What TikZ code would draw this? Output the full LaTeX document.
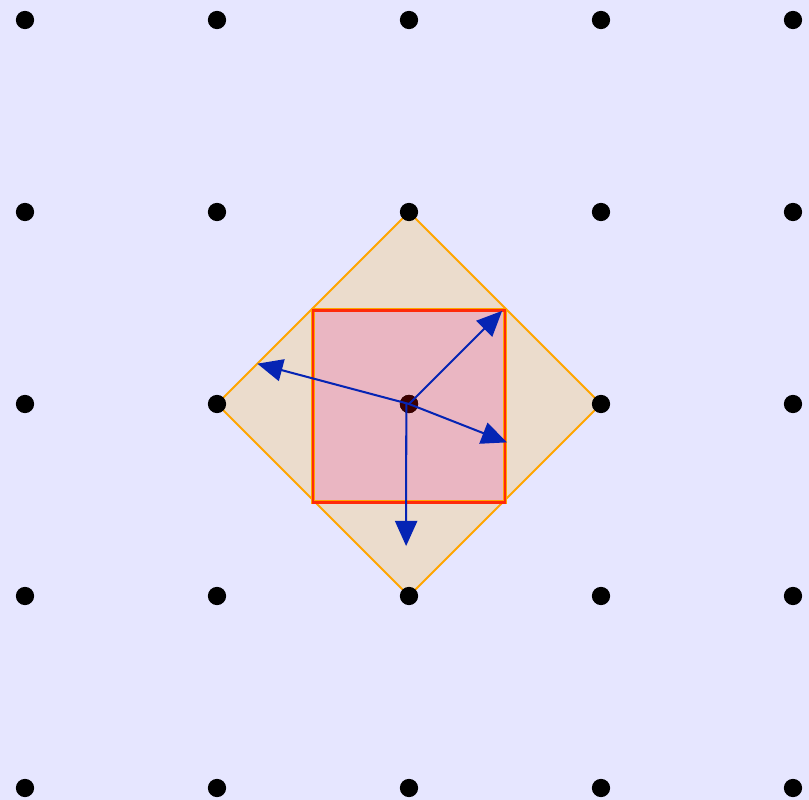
\documentclass[tikz,border=0pt]{standalone}
\usepackage{xcolor}
\usepackage{tikz}
\usetikzlibrary{arrows.meta,positioning,calc}
\definecolor{bglav}{HTML}{E6E6FF}
\definecolor{diamfill}{HTML}{EBDCCC}
\definecolor{sqfill}{HTML}{EAB6C2}
\definecolor{edgeorange}{HTML}{FFA500}
\definecolor{edgered}{HTML}{FF2A0A}
\definecolor{vecblue}{HTML}{0524B4}
\definecolor{centremaroon}{HTML}{3C0000}

\begin{document}
\begin{tikzpicture}[scale=2,
  latdot/.style={circle, fill=black, inner sep=0pt, minimum size=0.19cm},
  vec/.style={vecblue, line width=0.6pt, -{Triangle[length=7.5pt,width=6.6pt]}}]
\fill[bglav] (-0.1302,-0.0625) rectangle (4.0833,4.1042);
\useasboundingbox (-0.1302,-0.0625) rectangle (4.0833,4.1042);
% rotated square (diamond) and inscribed square
\filldraw[fill=diamfill, draw=edgeorange, line width=0.6pt] (2,3) -- (3,2) -- (2,1) -- (1,2) -- cycle;
\filldraw[fill=sqfill, draw=edgeorange, line width=1.2pt] (1.5,1.488) rectangle (2.5,2.488);
\draw[edgered, line width=0.85pt] (1.5,1.488) rectangle (2.5,2.488);
% lattice points
\foreach \i in {0,...,4}
  \foreach \j in {0,...,4}
    \node[latdot] (p\i\j) at (\i,\j) {};
\node[latdot, fill=centremaroon] (c) at (2,2) {};
% vectors
\coordinate (tipL) at (1.21,2.21);
\coordinate (tipUR) at (2.485,2.485);
\coordinate (tipR) at (2.51,1.8);
\coordinate (tipD) at (1.985,1.26);
\draw[vec] (c.center) -- (tipL);
\draw[vec] (c.center) -- (tipUR);
\draw[vec] (c.center) -- (tipR);
\draw[vec] ([xshift=-0.4pt]c.center) -- (tipD);
\end{tikzpicture}
\end{document}
